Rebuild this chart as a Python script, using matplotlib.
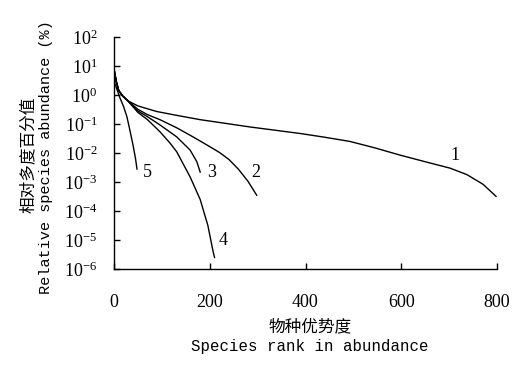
import math
import matplotlib
matplotlib.use("Agg")
import matplotlib.pyplot as plt
from matplotlib.ticker import FixedLocator, FuncFormatter

plt.rcParams['font.family'] = ['Liberation Serif', 'DejaVu Serif']
plt.rcParams['mathtext.fontset'] = 'custom'
plt.rcParams['mathtext.rm'] = 'Liberation Serif'
plt.rcParams['mathtext.default'] = 'regular'

# rank (x) and relative abundance (%) for each community curve
x1 = [1, 5, 10, 18, 29, 50, 89, 130, 180, 230, 284, 340, 389, 440, 493, 545, 597, 650, 702, 737, 771, 798]
y1 = [6.3, 2.8, 1.41, 0.93, 0.63, 0.42, 0.27, 0.2, 0.141, 0.107, 0.079, 0.06, 0.047, 0.035, 0.025,
      0.015, 0.0085, 0.005, 0.003, 0.0018, 0.00083, 0.00032]

x2 = [1, 5, 10, 18, 29, 50, 70, 96, 131, 165, 200, 220, 240, 260, 280, 298]
y2 = [6.3, 2.8, 1.41, 0.93, 0.63, 0.32, 0.21, 0.141, 0.074, 0.036, 0.0166, 0.0105, 0.006, 0.00275,
      0.00105, 0.00035]

x3 = [1, 5, 10, 18, 29, 50, 70, 96, 131, 159, 173, 180]
y3 = [6.3, 2.8, 1.41, 0.93, 0.63, 0.28, 0.178, 0.093, 0.036, 0.0126, 0.005, 0.0022]

x4 = [1, 5, 10, 18, 29, 50, 70, 96, 117, 131, 159, 180, 196, 207, 210]
y4 = [6.3, 2.8, 1.41, 0.93, 0.63, 0.25, 0.141, 0.054, 0.022, 0.011, 0.0015, 0.00025, 3.2e-5, 4e-6, 2.5e-6]

x5 = [1, 6, 12.5, 20, 27, 33, 40, 45, 48]
y5 = [2.7, 1.58, 0.79, 0.4, 0.178, 0.063, 0.0178, 0.0063, 0.0028]

curve_names = ['1', '2', '3', '4', '5']
label_x = [712, 297, 203, 228, 69]
label_y = [0.0085, 0.0022, 0.0022, 9.3e-6, 0.0022]

xticks = [0, 200, 400, 600, 800]
yexps = [-6, -5, -4, -3, -2, -1, 0, 1, 2]

fig = plt.figure(figsize=(5.28, 3.75), dpi=100)
ax = fig.add_axes([114/528, 1 - 269/375, (497 - 114)/528, (269 - 37)/375])

for xs, ys in [(x1, y1), (x2, y2), (x3, y3), (x4, y4), (x5, y5)]:
    ax.plot(xs, ys, color='black', lw=1.0, solid_joinstyle='round')

for name, tx, ty in zip(curve_names, label_x, label_y):
    ax.text(tx, ty, name, ha='center', va='center', fontsize=13)

ax.set_yscale('log')
ax.set_xlim(0, 800)
ax.set_ylim(1e-6, 1e2)
ax.xaxis.set_major_locator(FixedLocator(xticks))
ax.yaxis.set_major_locator(FixedLocator([10.0 ** e for e in yexps]))
ax.yaxis.set_minor_locator(FixedLocator([]))
ax.yaxis.set_major_formatter(FuncFormatter(
    lambda v, p: r'$10^{%d}$' % round(math.log10(v))))
ax.tick_params(direction='in', length=4, width=1, labelsize=13, colors='black')
ax.tick_params(axis='x', pad=18)
ax.tick_params(axis='y', pad=12)
for s in ['top', 'right']:
    ax.spines[s].set_visible(False)
for s in ['left', 'bottom']:
    ax.spines[s].set_linewidth(1.0)

fig.text(28/528, 1 - 155/375, '相对多度百分值', rotation=90, ha='center', va='center',
         fontsize=12, family=['Noto Sans CJK SC', 'DejaVu Sans'])
fig.text(46/528, 1 - 157/375, 'Relative species abundance (%)', rotation=90,
         ha='center', va='center', fontsize=11, family=['Liberation Mono', 'DejaVu Sans Mono'])
fig.text(310/528, 1 - 327/375, '物种优势度', ha='center', va='center',
         fontsize=12, family=['Noto Sans CJK SC', 'DejaVu Sans'])
fig.text(310/528, 1 - 347/375, 'Species rank in abundance', ha='center', va='center',
         fontsize=11.3, family=['Liberation Mono', 'DejaVu Sans Mono'])

fig.savefig('out.png', dpi=100)
